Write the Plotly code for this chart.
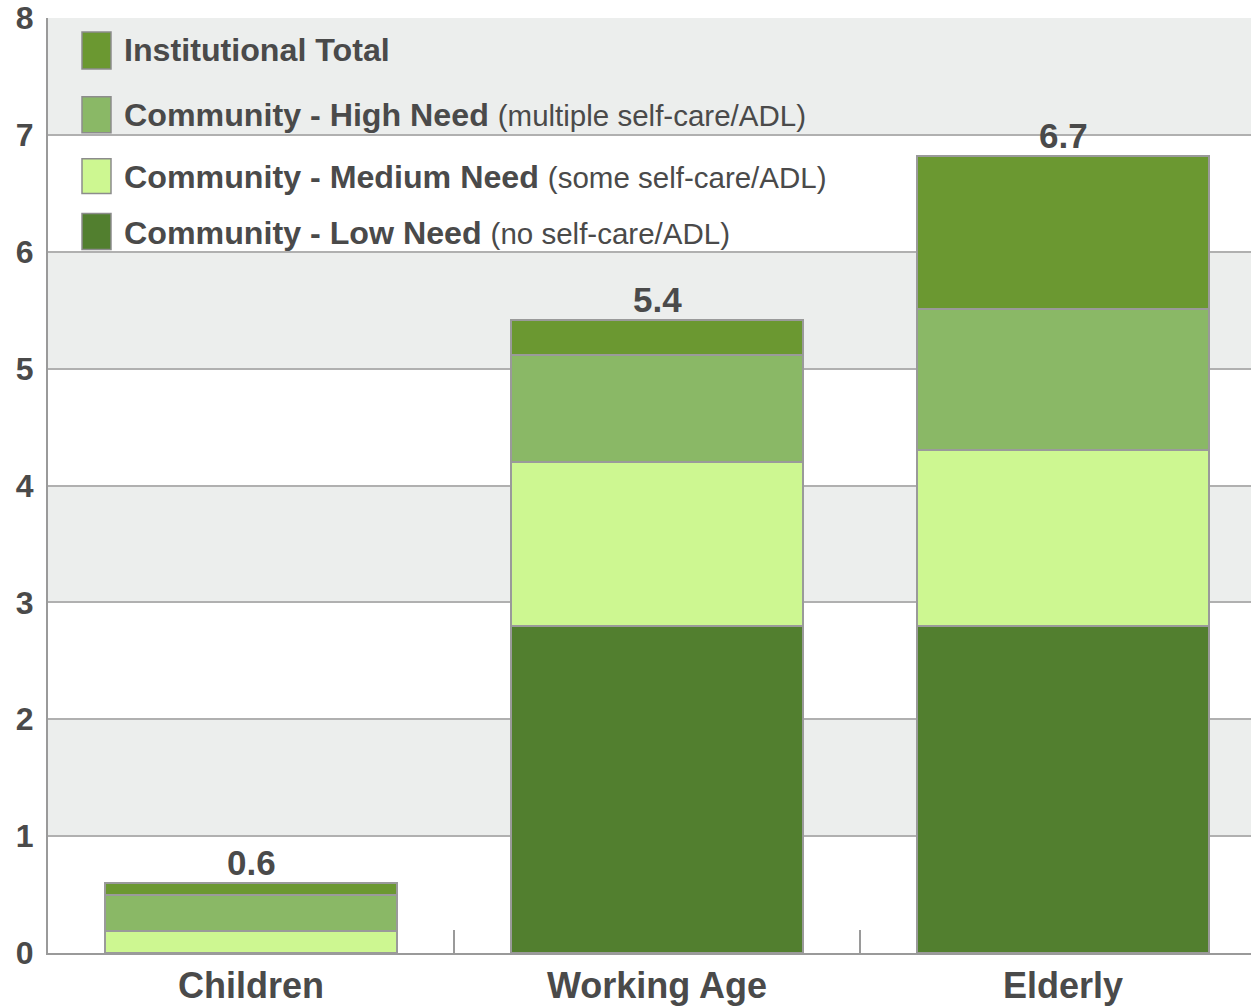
import plotly.graph_objects as go

# ---- data ----
categories = ["Children", "Working Age", "Elderly"]
low_need = [0.0, 2.8, 2.8]
medium_need = [0.19, 1.4, 1.5]
high_need = [0.31, 0.92, 1.21]
institutional = [0.1, 0.3, 1.31]
total_labels = ["0.6", "5.4", "6.7"]
y_ticks = [0, 1, 2, 3, 4, 5, 6, 7, 8]

series_names = ["Community - Low Need", "Community - Medium Need",
                "Community - High Need", "Institutional Total"]
series_notes = ["(no self-care/ADL)", "(some self-care/ADL)",
                "(multiple self-care/ADL)", ""]
series_values = [low_need, medium_need, high_need, institutional]
colors = ["#527F2F", "#CDF791", "#8AB866", "#6B9831"]

FONT = "Liberation Sans"
TXT = "#4a4a4a"

# pixel helpers (layout geometry)
L, R, T, B = 48, 0, 18, 51
W, H = 1251, 1006
plot_h = H - T - B
cat_w = 406.0
def py2y(py):
    return (H - B - py) / (plot_h / 8.0)
def px2x(px):
    return -0.5 + (px - L) / cat_w

fig = go.Figure()
for name, vals, col in zip(series_names, series_values, colors):
    fig.add_trace(go.Bar(
        x=categories, y=vals, name=name, marker_color=col,
        marker_line_color="#9a9a9a", marker_line_width=2,
        width=0.72, showlegend=False, hoverinfo="skip"))

# totals above bars
tops = [sum(v[i] for v in series_values) for i in range(len(categories))]
for c, t, lab in zip(categories, tops, total_labels):
    fig.add_annotation(x=c, y=t, text="<b>%s</b>" % lab, showarrow=False,
                       yanchor="bottom", yshift=-1,
                       font=dict(family=FONT, size=35, color=TXT))

shapes = []
# alternating background bands
for k in range(1, 8, 2):
    shapes.append(dict(type="rect", xref="paper", x0=0, x1=1, yref="y",
                       y0=k, y1=k + 1, fillcolor="#ECEEED", line_width=0,
                       layer="below"))

# manual legend (top to bottom)
legend_rows = [(3, 50, 32, 69), (2, 115, 97, 133), (1, 177, 159, 194), (0, 233, 214, 250)]
for idx, cy, top, bot in legend_rows:
    shapes.append(dict(type="rect", xref="x", yref="y",
                       x0=px2x(82), x1=px2x(111), y0=py2y(bot), y1=py2y(top),
                       fillcolor=colors[idx], line=dict(color="#8c8c8c", width=1.5)))
    note = series_notes[idx]
    txt = "<b>%s</b>" % series_names[idx]
    if note:
        txt += " <span style='font-size:29.5px'>%s</span>" % note
    fig.add_annotation(x=px2x(122), y=py2y(cy), xref="x", yref="y", text=txt,
                       showarrow=False, xanchor="left", yanchor="middle",
                       font=dict(family=FONT, size=32.2, color=TXT))

fig.update_layout(
    width=W, height=H, margin=dict(l=L, r=R, t=T, b=B),
    paper_bgcolor="white", plot_bgcolor="white",
    barmode="stack", bargap=0.28, shapes=shapes,
    font=dict(family=FONT, color=TXT),
)
fig.update_xaxes(range=[-0.5, px2x(W)], showline=True, linecolor="#9a9a9a",
                 linewidth=2, ticks="inside", tickson="boundaries", ticklen=23,
                 tickcolor="#9a9a9a", tickwidth=2, showgrid=False,
                 tickfont=dict(family=FONT, size=36, color=TXT, weight="bold"))
fig.update_yaxes(range=[0, 8], tickvals=y_ticks, showline=True, linecolor="#9a9a9a",
                 linewidth=2, showgrid=True, gridcolor="#b0b0b0", gridwidth=1.5,
                 zeroline=False, ticks="", ticklabelstandoff=6,
                 tickfont=dict(family=FONT, size=32, color=TXT, weight="bold"))

fig.write_html("out.html")
